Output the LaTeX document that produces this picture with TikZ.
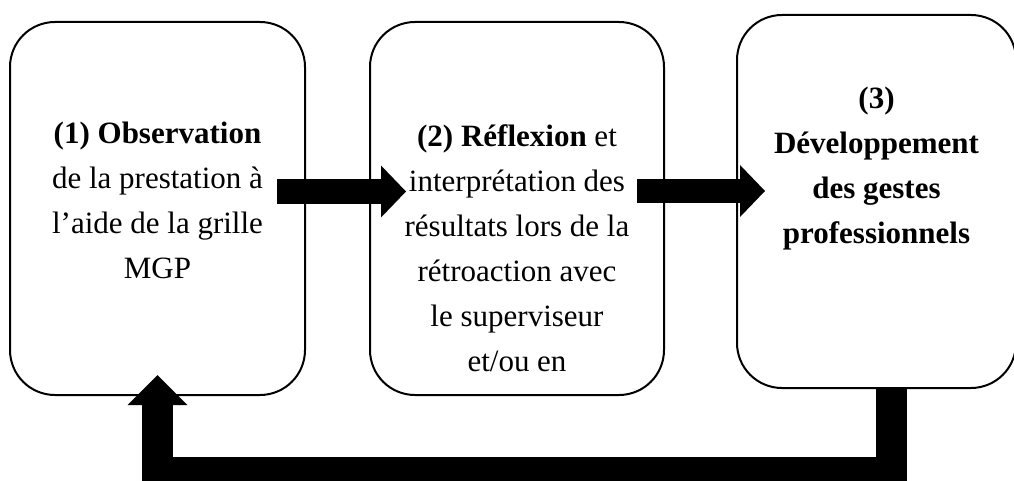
\documentclass[tikz,border=0pt]{standalone}
\usepackage{fontspec}
\setmainfont{Liberation Serif}
\usetikzlibrary{arrows.meta,positioning}

\tikzset{
  stage/.style={draw,fill=white,line width=2pt,rounded corners=45pt,inner sep=0pt,minimum width=295pt,minimum height=373pt},
  stagetext/.style={anchor=north,align=center,inner sep=0pt,font=\fontsize{31}{45}\selectfont},
  flow/.style={line width=24pt,-{Triangle[length=25pt,width=52pt,line width=0pt]}},
  loopback/.style={line width=31pt,line join=miter,-{Triangle[length=30pt,width=60pt,line width=0pt]}},
}

\begin{document}
\begin{tikzpicture}[x=1pt,y=1pt]
  \useasboundingbox (0,0) rectangle (1014,480);
  % the three stages
  \node[stage] (b1) at (157.5,271.5) {};
  \node[stage,minimum width=294pt,right=63pt of b1] (b2) {};
  \node[stage,minimum width=279pt,right=71pt of b2,yshift=7pt] (b3) {};
  \node[stagetext] (t1) at ([yshift=-101pt]b1.north) {\textbf{(1) Observation}\\de la prestation à\\l'aide de la grille\\MGP};
  \node[stagetext] (t2) at ([yshift=-103pt]b2.north) {\textbf{(2) Réflexion} et\\interprétation des\\résultats lors de la\\rétroaction avec\\le superviseur\\et/ou en};
  \node[stagetext] (t3) at ([yshift=-73pt]b3.north) {\textbf{(3)}\\\textbf{Développement}\\\textbf{des gestes}\\\textbf{professionnels}};
  % arrows between stages
  \draw[flow] ([xshift=-29pt,yshift=17pt]b1.east) -- ([xshift=37pt,yshift=17pt]b2.west);
  \draw[flow] ([xshift=-28pt,yshift=17.5pt]b2.east) -- ([xshift=29pt,yshift=10.5pt]b3.west);
  % back to the start
  \coordinate (low) at (500,8);
  \draw[loopback] ([xshift=15pt]b3.south) |- (low) -| ([yshift=21pt]b1.south);
\end{tikzpicture}
\end{document}
